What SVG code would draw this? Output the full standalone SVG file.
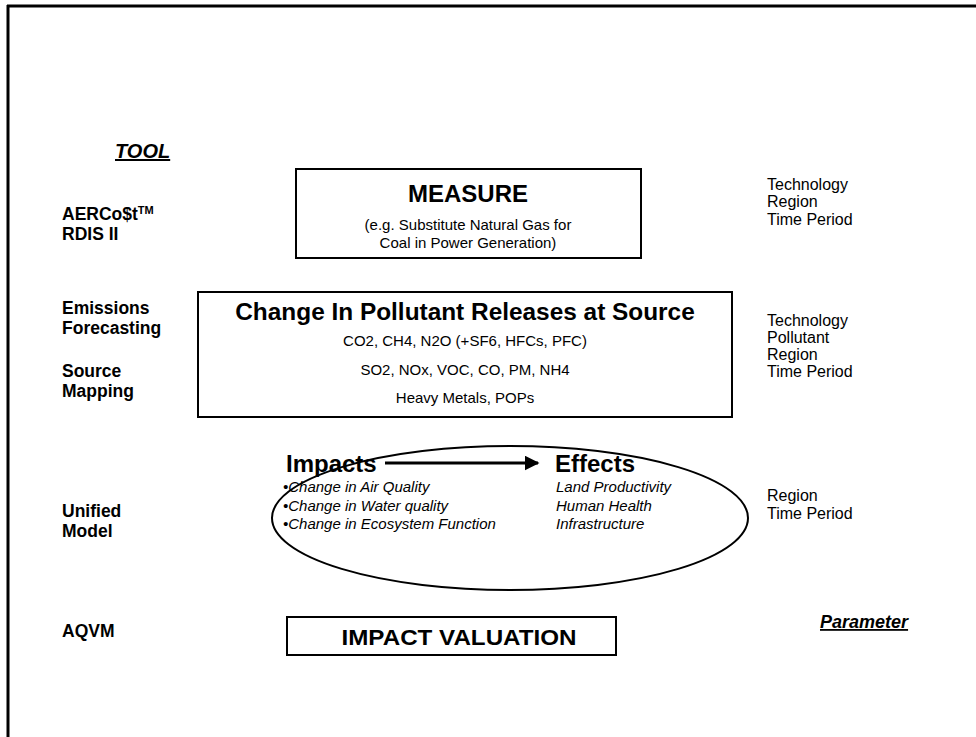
<svg xmlns="http://www.w3.org/2000/svg" width="976" height="737" viewBox="0 0 976 737">
<defs>
<style>
.lbl{font-family:"Liberation Sans",Arial,sans-serif;font-weight:bold;font-size:17.5px;fill:#000}
.par{font-family:"Liberation Sans",Arial,sans-serif;font-size:16px;fill:#000}
.hdr{font-family:"Liberation Sans",Arial,sans-serif;font-weight:bold;font-style:italic;fill:#000;text-decoration:underline}
.box{fill:#fff;stroke:#000;stroke-width:2}
.t{font-family:"Liberation Sans",Arial,sans-serif;fill:#000;text-anchor:middle}
.b{font-weight:bold}
.big{font-family:"Liberation Sans",Arial,sans-serif;font-weight:bold;font-size:24px;fill:#000}
.it{font-family:"Liberation Sans",Arial,sans-serif;font-style:italic;font-size:15px;fill:#000}
</style>
<marker id="ah" viewBox="0 0 10 10" refX="9" refY="5" markerWidth="5" markerHeight="5" orient="auto" markerUnits="strokeWidth">
<path d="M0,0 L10,5 L0,10 Z" fill="#000"/>
</marker>
</defs>
<rect width="976" height="737" fill="#fff"/>
<g id="frame">
<line x1="7" y1="6" x2="976" y2="6" stroke="#000" stroke-width="3"/>
<line x1="8" y1="5" x2="8" y2="737" stroke="#000" stroke-width="3"/>
</g>
<g id="tool-labels">
<text class="hdr" x="115" y="158" style="font-size:20px">TOOL</text>
<text class="lbl" x="62" y="220">AERCo$t<tspan style="font-size:11px" dy="-6">TM</tspan></text>
<text class="lbl" x="62" y="240">RDIS II</text>
<text class="lbl" x="62" y="314">Emissions</text>
<text class="lbl" x="62" y="334">Forecasting</text>
<text class="lbl" x="62" y="377">Source</text>
<text class="lbl" x="62" y="397">Mapping</text>
<text class="lbl" x="62" y="517">Unified</text>
<text class="lbl" x="62" y="537">Model</text>
<text class="lbl" x="62" y="637">AQVM</text>
</g>
<g id="param-labels">
<text class="par" x="767" y="190">Technology</text>
<text class="par" x="767" y="207">Region</text>
<text class="par" x="767" y="225">Time Period</text>
<text class="par" x="767" y="326">Technology</text>
<text class="par" x="767" y="343">Pollutant</text>
<text class="par" x="767" y="360">Region</text>
<text class="par" x="767" y="377">Time Period</text>
<text class="par" x="767" y="501">Region</text>
<text class="par" x="767" y="519">Time Period</text>
<text class="hdr" x="820" y="628" style="font-size:18px">Parameter</text>
</g>
<g id="measure">
<rect class="box" x="296" y="169" width="345" height="89"/>
<text class="t b" x="468" y="202" font-size="24">MEASURE</text>
<text class="t" x="468" y="230" font-size="15">(e.g. Substitute Natural Gas for</text>
<text class="t" x="468" y="248" font-size="15">Coal in Power Generation)</text>
</g>
<g id="releases">
<rect class="box" x="198" y="292" width="534" height="125"/>
<text class="t b" x="465" y="320" font-size="24.4">Change In Pollutant Releases at Source</text>
<text class="t" x="465" y="346" font-size="15">CO2, CH4, N2O (+SF6, HFCs, PFC)</text>
<text class="t" x="465" y="375" font-size="15">SO2, NOx, VOC, CO, PM, NH4</text>
<text class="t" x="465" y="403" font-size="15">Heavy Metals, POPs</text>
</g>
<g id="impacts-effects">
<ellipse cx="510" cy="518" rx="238" ry="72" fill="none" stroke="#000" stroke-width="2"/>
<text class="big" x="286" y="472">Impacts</text>
<text class="big" x="555" y="472">Effects</text>
<text class="it" x="283" y="492">•Change in Air Quality</text>
<text class="it" x="283" y="511">•Change in Water quality</text>
<text class="it" x="283" y="529">•Change in Ecosystem Function</text>
<text class="it" x="556" y="492">Land Productivity</text>
<text class="it" x="556" y="511">Human Health</text>
<text class="it" x="556" y="529">Infrastructure</text>
</g>
<g id="connectors">
<line x1="385" y1="463" x2="538" y2="463" stroke="#000" stroke-width="3" marker-end="url(#ah)"/>
</g>
<g id="valuation">
<rect class="box" x="287" y="617" width="329" height="38"/>
<text class="t b" x="459" y="645" font-size="22" textLength="235" lengthAdjust="spacingAndGlyphs">IMPACT VALUATION</text>
</g>
</svg>
